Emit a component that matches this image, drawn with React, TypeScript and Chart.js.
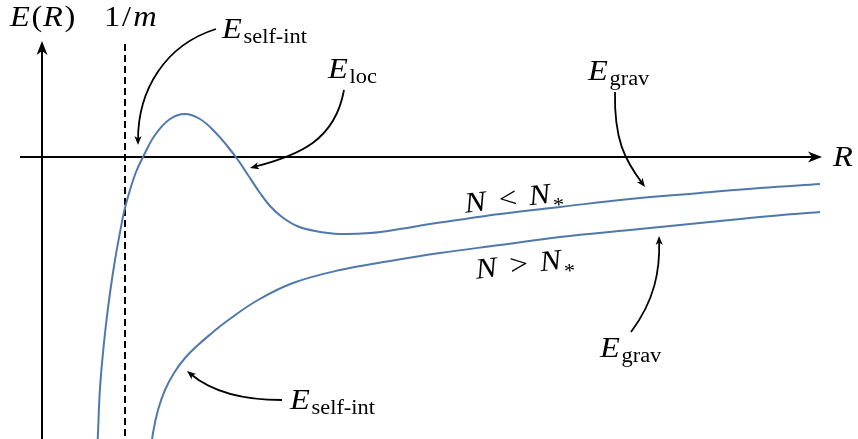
import React, { useEffect, useRef } from "react";
import { Chart, registerables } from "chart.js";

Chart.register(...registerables);

// Energy curves E(R): radius R (axis units) and energy E (axis units)
const rBelow = [0.545, 0.56, 0.577, 0.603, 0.637, 0.68, 0.73, 0.775, 0.82, 0.88, 0.94, 1.01, 1.13, 1.28, 1.43, 1.58, 1.73, 1.86, 1.96, 2.06, 2.18, 2.28, 2.4, 2.55, 2.73, 2.98, 3.28, 3.58, 3.88, 4.23, 4.58, 5.18, 5.88, 6.58, 7.18, 7.78];
const eBelow = [-3.08, -2.76, -2.36, -2.03, -1.7, -1.36, -1.03, -0.78, -0.55, -0.33, -0.15, 0, 0.22, 0.38, 0.43, 0.38, 0.25, 0.1, -0.03, -0.18, -0.36, -0.49, -0.6, -0.69, -0.74, -0.77, -0.76, -0.72, -0.67, -0.62, -0.57, -0.5, -0.42, -0.36, -0.31, -0.27];

const rAbove = [1.07, 1.11, 1.16, 1.23, 1.32, 1.43, 1.56, 1.7, 1.85, 2.16, 2.51, 2.98, 3.48, 3.98, 4.58, 5.18, 5.88, 6.58, 7.18, 7.78];
const eAbove = [-3.08, -2.76, -2.53, -2.33, -2.16, -2.01, -1.88, -1.76, -1.64, -1.43, -1.26, -1.13, -1.04, -0.96, -0.88, -0.8, -0.73, -0.66, -0.6, -0.55];

// Compton-length marker on the R axis
const R_COMPTON = 0.83;

// Visible window of the diagram
const X_MIN = -0.42;
const X_MAX = 8.16;
const Y_MIN = -2.82;
const Y_MAX = 1.57;

const CURVE = "#4f79aa";
const INK = "#000000";
const FONT = '"Liberation Serif", "DejaVu Serif", serif';
const MAIN = 29;
const SUB = 20;
const STRETCH = 1.12;

type Tok = { t: string; it?: boolean; sub?: boolean; drop?: number; gap?: number };

type Label = { toks: Tok[]; x: number; y: number; align: "left" | "center"; angle?: number };

const LABELS: Label[] = [
  { toks: [{ t: "E", it: true }, { t: "(" }, { t: "R", it: true }, { t: ")" }], x: -0.32, y: 1.31, align: "left" },
  { toks: [{ t: "1" }, { t: "/", gap: 1 }, { t: "m", it: true, gap: 1.5 }], x: 0.62, y: 1.31, align: "left" },
  { toks: [{ t: "E", it: true }, { t: "self-int", sub: true }], x: 1.8, y: 1.19, align: "left" },
  { toks: [{ t: "E", it: true }, { t: "loc", sub: true }], x: 2.86, y: 0.79, align: "left" },
  { toks: [{ t: "E", it: true }, { t: "grav", sub: true }], x: 5.46, y: 0.77, align: "left" },
  { toks: [{ t: "R", it: true }], x: 7.91, y: -0.09, align: "left" },
  { toks: [{ t: "N", it: true }, { t: "<", gap: 10 }, { t: "N", it: true, gap: 10 }, { t: "*", sub: true, drop: 4 }], x: 4.73, y: -0.5, align: "center", angle: -6.5 },
  { toks: [{ t: "N", it: true }, { t: ">", gap: 10 }, { t: "N", it: true, gap: 10 }, { t: "*", sub: true, drop: 4 }], x: 4.84, y: -1.16, align: "center", angle: -6.5 },
  { toks: [{ t: "E", it: true }, { t: "grav", sub: true }], x: 5.58, y: -2.0, align: "left" },
  { toks: [{ t: "E", it: true }, { t: "self-int", sub: true }], x: 2.48, y: -2.52, align: "left" },
];

// Pointer arrows: cubic Bézier from the label to the curve, [start, c1, c2, tip]
const POINTERS: [number, number][][] = [
  [[1.74, 1.28], [1.23, 1.12], [0.96, 0.67], [0.96, 0.12]],
  [[3.02, 0.67], [2.93, 0.17], [2.58, 0.02], [2.08, -0.11]],
  [[5.73, 0.65], [5.72, 0.17], [5.83, -0.03], [6.03, -0.3]],
  [[5.89, -1.75], [6.13, -1.43], [6.18, -1.13], [6.17, -0.79]],
  [[2.4, -2.43], [1.98, -2.43], [1.68, -2.33], [1.45, -2.14]],
];

function fontFor(tok: Tok) {
  return `${tok.it ? "italic " : ""}${tok.sub ? SUB : MAIN}px ${FONT}`;
}

function advance(ctx: CanvasRenderingContext2D, tok: Tok) {
  ctx.font = fontFor(tok);
  return ctx.measureText(tok.t).width + (tok.it && !tok.sub ? 1.5 : 0.5);
}

function drawMath(ctx: CanvasRenderingContext2D, lab: Label, x: number, y: number) {
  const total = lab.toks.reduce((s, t) => s + (t.gap || 0) + advance(ctx, t), 0);
  ctx.save();
  ctx.translate(x, y);
  if (lab.angle) ctx.rotate((lab.angle * Math.PI) / 180);
  ctx.scale(STRETCH, 1);
  let cx = lab.align === "center" ? -total / 2 : 0;
  ctx.fillStyle = INK;
  ctx.textBaseline = "alphabetic";
  ctx.textAlign = "left";
  for (const tok of lab.toks) {
    cx += tok.gap || 0;
    const w = advance(ctx, tok);
    const dy = tok.sub ? 5 + (tok.drop || 0) : 0;
    ctx.fillText(tok.t, cx, dy);
    cx += w;
  }
  ctx.restore();
}

function arrowHead(ctx: CanvasRenderingContext2D, x: number, y: number, ang: number, len: number, half: number) {
  ctx.save();
  ctx.translate(x, y);
  ctx.rotate(ang);
  ctx.beginPath();
  ctx.moveTo(0, 0);
  ctx.lineTo(-len, -half);
  ctx.lineTo(-len * 0.72, 0);
  ctx.lineTo(-len, half);
  ctx.closePath();
  ctx.fillStyle = INK;
  ctx.fill();
  ctx.restore();
}

const diagramPlugin = {
  id: "diagram",
  beforeDatasetsDraw(chart: any) {
    const { ctx } = chart;
    const sx = chart.scales.x;
    const sy = chart.scales.y;
    const X = (v: number) => sx.getPixelForValue(v);
    const Y = (v: number) => sy.getPixelForValue(v);
    ctx.save();
    ctx.strokeStyle = INK;
    ctx.lineWidth = 2;

    // R axis
    const x0 = X(-0.22), x1 = X(7.8), y0 = Y(0);
    ctx.beginPath();
    ctx.moveTo(x0, y0);
    ctx.lineTo(x1 - 6, y0);
    ctx.stroke();
    arrowHead(ctx, x1, y0, 0, 14, 5.5);

    // E axis
    const ex = X(0), eb = Y(Y_MIN), et = Y(1.16);
    ctx.beginPath();
    ctx.moveTo(ex, eb);
    ctx.lineTo(ex, et + 6);
    ctx.stroke();
    arrowHead(ctx, ex, et, -Math.PI / 2, 14, 5.5);

    // 1/m marker
    ctx.setLineDash([7, 4]);
    ctx.beginPath();
    ctx.moveTo(X(R_COMPTON), Y(1.13));
    ctx.lineTo(X(R_COMPTON), Y(Y_MIN));
    ctx.stroke();
    ctx.restore();
  },
  afterDatasetsDraw(chart: any) {
    const { ctx } = chart;
    const sx = chart.scales.x;
    const sy = chart.scales.y;
    const P = (p: [number, number]) => [sx.getPixelForValue(p[0]), sy.getPixelForValue(p[1])];
    ctx.save();
    ctx.strokeStyle = INK;
    ctx.lineWidth = 1.8;
    for (const ptr of POINTERS) {
      const [a, b, c, d] = ptr.map(P);
      const ang = Math.atan2(d[1] - c[1], d[0] - c[0]);
      const back = 5;
      const ex = d[0] - Math.cos(ang) * back;
      const ey = d[1] - Math.sin(ang) * back;
      ctx.beginPath();
      ctx.moveTo(a[0], a[1]);
      ctx.bezierCurveTo(b[0], b[1], c[0], c[1], ex, ey);
      ctx.stroke();
      arrowHead(ctx, d[0], d[1], ang, 9, 3.6);
    }
    for (const lab of LABELS) {
      drawMath(ctx, lab, sx.getPixelForValue(lab.x), sy.getPixelForValue(lab.y));
    }
    ctx.restore();
  },
};

export default function App() {
  const ref = useRef<HTMLCanvasElement | null>(null);

  useEffect(() => {
    if (!ref.current) return;
    const chart = new Chart(ref.current, {
      type: "line",
      data: {
        datasets: [
          {
            label: "N < N*",
            data: rBelow.map((r, i) => ({ x: r, y: eBelow[i] })),
            borderColor: CURVE,
            borderWidth: 2,
            pointRadius: 0,
            fill: false,
            tension: 0.4,
          },
          {
            label: "N > N*",
            data: rAbove.map((r, i) => ({ x: r, y: eAbove[i] })),
            borderColor: CURVE,
            borderWidth: 2,
            pointRadius: 0,
            fill: false,
            tension: 0.4,
          },
        ],
      },
      options: {
        responsive: false,
        animation: false,
        events: [],
        layout: { padding: 0 },
        scales: {
          x: { type: "linear", min: X_MIN, max: X_MAX, display: false },
          y: { type: "linear", min: Y_MIN, max: Y_MAX, display: false },
        },
        plugins: { legend: { display: false }, tooltip: { enabled: false } },
      },
      plugins: [diagramPlugin],
    } as any);
    return () => chart.destroy();
  }, []);

  return (
    <div style={{ position: "absolute", left: 0, top: 0, width: 858, height: 439, background: "#fff" }}>
      <canvas ref={ref} width={858} height={439} />
    </div>
  );
}
